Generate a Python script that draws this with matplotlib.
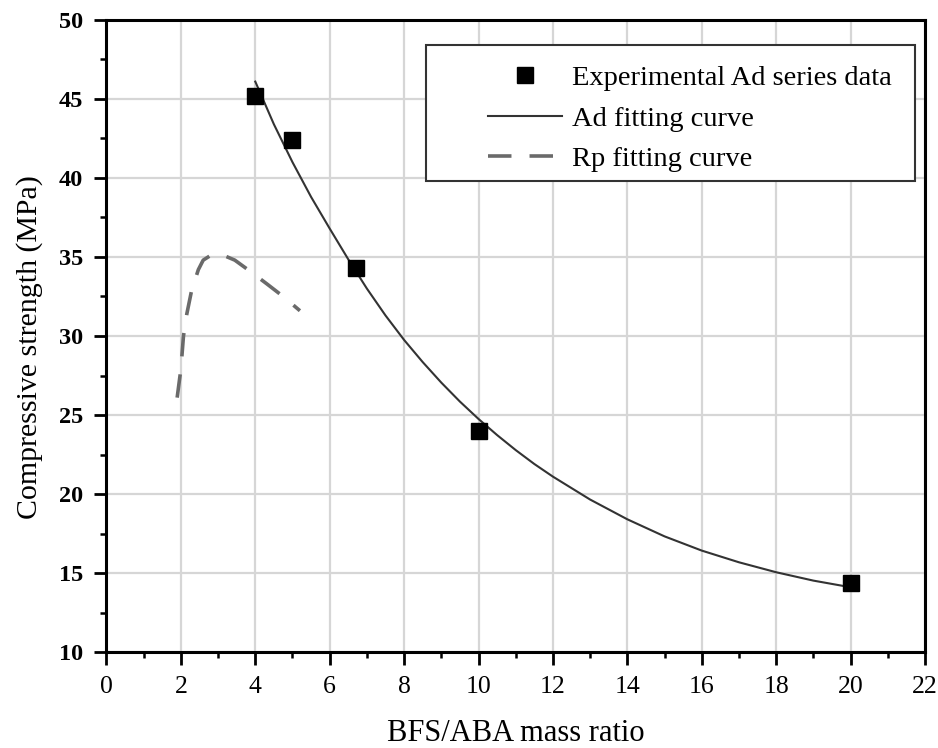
import matplotlib
matplotlib.use("Agg")
import matplotlib.pyplot as plt
from matplotlib.ticker import MultipleLocator
from matplotlib.patches import Rectangle

plt.rcParams['font.family'] = ['Liberation Serif', 'DejaVu Serif']

# Experimental Ad series data
exp_x = [4.0, 5.0, 6.7, 10.0, 20.0]
exp_y = [45.2, 42.4, 34.3, 24.0, 14.4]

# Ad fitting curve
ad_x = [4.0, 4.5, 5.0, 5.5, 6.0, 6.5, 7.0, 7.5, 8.0, 8.5, 9.0, 9.5, 10.0, 10.5,
        11.0, 11.5, 12.0, 13.0, 14.0, 15.0, 16.0, 17.0, 18.0, 19.0, 20.0]
ad_y = [46.1, 43.4, 41.0, 38.8, 36.8, 34.85, 33.0, 31.3, 29.75, 28.35, 27.05, 25.85, 24.75, 23.73,
        22.78, 21.9, 21.1, 19.65, 18.4, 17.32, 16.42, 15.68, 15.05, 14.52, 14.1]

# Rp fitting curve
rp_x = [1.90, 2.00, 2.07, 2.16, 2.29, 2.47, 2.60, 2.80, 3.05, 3.45, 3.86, 4.31, 4.75, 5.20]
rp_y = [26.1, 27.9, 30.0, 31.4, 32.9, 34.2, 34.8, 35.1, 35.2, 34.8, 34.1, 33.3, 32.5, 31.6]

xticks = list(range(0, 23, 2))
yticks = list(range(10, 51, 5))

fig = plt.figure(figsize=(9.38, 7.48), dpi=100)
ax = fig.add_axes([0.1135, 0.1283, 0.8726, 0.845])

ax.plot(rp_x, rp_y, color='#6a6a6a', lw=2.6, dashes=(6.5, 5), label='Rp fitting curve', zorder=3)
ax.plot(ad_x, ad_y, color='#333333', lw=1.5, label='Ad fitting curve', zorder=3)
ax.plot(exp_x, exp_y, linestyle='none', marker='s', ms=11, color='black',
        label='Experimental Ad series data', zorder=4)

ax.set_xlim(0, 22)
ax.set_ylim(10, 50)
ax.set_xticks(xticks)
ax.set_yticks(yticks)
ax.xaxis.set_minor_locator(MultipleLocator(1))
ax.yaxis.set_minor_locator(MultipleLocator(2.5))
ax.grid(True, which='major', color='#d6d6d6', lw=1.6, zorder=0)
ax.set_axisbelow(True)

for s in ax.spines.values():
    s.set_linewidth(2.2)
ax.tick_params(which='major', direction='out', length=9, width=2)
ax.tick_params(which='minor', direction='out', length=4.5, width=1.8)
ax.tick_params(axis='x', which='major', labelsize=18.5, pad=8)
ax.tick_params(axis='y', which='major', labelsize=17.5, pad=8)
for lab in ax.get_yticklabels():
    lab.set_fontweight('bold')

ax.set_xlabel('BFS/ABA mass ratio', fontsize=22)
ax.xaxis.set_label_coords(0.5, -0.106)
ax.set_ylabel('Compressive strength (MPa)', fontsize=21.5)
ax.yaxis.set_label_coords(-0.077, 0.483)

handles, labels = ax.get_legend_handles_labels()
order = [2, 1, 0]
leg = ax.legend([handles[i] for i in order], [labels[i] for i in order],
                loc='upper left', bbox_to_anchor=(0.466, 0.928), borderaxespad=0,
                borderpad=0, fontsize=20.5, frameon=False,
                handlelength=2.6, handletextpad=0.35, labelspacing=0.5)
ax.add_patch(Rectangle((0.3903, 0.7453), 0.9878 - 0.3903, 0.9604 - 0.7453,
                       transform=ax.transAxes, fill=True, facecolor='white',
                       edgecolor='#333333', lw=1.5, zorder=5))
leg.set_zorder(6)

fig.savefig('out.png', dpi=100)
